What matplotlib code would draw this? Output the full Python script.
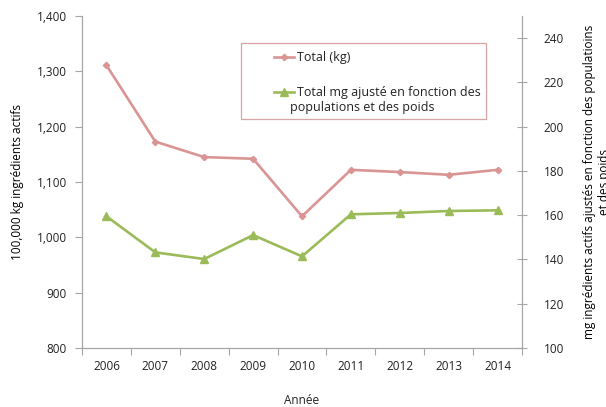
import matplotlib
matplotlib.use("Agg")
import matplotlib.pyplot as plt
from matplotlib.ticker import FuncFormatter, FixedLocator
from matplotlib.patches import Rectangle

years = ["2006", "2007", "2008", "2009", "2010", "2011", "2012", "2013", "2014"]
total_kg = [1311, 1173, 1145, 1142, 1038, 1122, 1118, 1113, 1122]
total_mg_adj = [159.5, 143.2, 140.2, 151.0, 141.4, 160.4, 161.0, 161.9, 162.2]

left_ticks = [800, 900, 1000, 1100, 1200, 1300, 1400]
right_ticks = [100, 120, 140, 160, 180, 200, 220, 240]

PINK = "#d99594"
GREEN = "#9bbb59"
AXIS = "#a6a6a6"
TXT = "#222222"

plt.rcParams.update({
    "font.family": ["Open Sans", "DejaVu Sans"], "font.size": 8.5,
    "text.color": TXT, "xtick.color": AXIS, "ytick.color": AXIS,
    "xtick.labelcolor": TXT, "ytick.labelcolor": TXT,
})

fig = plt.figure(figsize=(6.06, 4.07), dpi=100)
ax = fig.add_axes([82 / 606, 1 - 348 / 407, 440 / 606, 332 / 407])
ax2 = ax.twinx()

x = list(range(len(years)))
l1, = ax.plot(x, total_kg, color=PINK, lw=1.9, marker="D", ms=3.2, label="Total (kg)")
l2, = ax2.plot(x, total_mg_adj, color=GREEN, lw=1.9, marker="^", ms=5.5,
               label="Total mg ajusté en fonction des")

ax.set_xlim(-0.5, len(years) - 0.5)
ax.set_ylim(800, 1400)
ax2.set_ylim(100, 250)
ax.set_yticks(left_ticks)
ax2.set_yticks(right_ticks)
ax.yaxis.set_major_formatter(FuncFormatter(lambda v, p: f"{int(v):,}"))

ax.set_xticks(x)
ax.set_xticklabels(years)
ax.xaxis.set_minor_locator(FixedLocator([i - 0.5 for i in range(len(years) + 1)]))
ax.tick_params(axis="x", which="major", length=0, pad=9)
ax.tick_params(axis="x", which="minor", length=5, width=0.8, direction="out")
ax.tick_params(axis="y", length=5, width=0.8, direction="out", pad=6)
ax2.tick_params(axis="y", length=7, width=0.8, direction="inout", pad=12)

for a in (ax, ax2):
    a.spines["top"].set_visible(False)
    for s in ("left", "right", "bottom"):
        a.spines[s].set_color(AXIS)
        a.spines[s].set_linewidth(0.9)
ax.spines["right"].set_visible(False)
ax2.spines["left"].set_visible(False)
ax2.spines["bottom"].set_visible(False)

ax.set_ylabel("100,000 kg ingrédients actifs", labelpad=9)
ax2.set_ylabel("mg ingrédients actifs ajustés en fonction des populatioins\net des poids",
               labelpad=14, rotation=90)
fig.text(302 / 606, 1 - 400 / 407, "Année", ha="center", va="center")

# legend box
fig.patches.append(Rectangle((241 / 606, 1 - 119 / 407), 245 / 606, 76 / 407,
                             transform=fig.transFigure, fill=False,
                             edgecolor="#d8a3a3", lw=0.9))
leg = fig.legend(handles=[l1, l2], loc="upper left", bbox_to_anchor=(263 / 606, 1 - 40 / 407),
                 frameon=False, handlelength=1.6, handletextpad=0.2, labelspacing=1.75,
                 fontsize=9)
fig.text(290 / 606, 1 - 108 / 407, "populations et des poids", fontsize=9,
         va="center", ha="left")

fig.savefig("out.png", dpi=100)
